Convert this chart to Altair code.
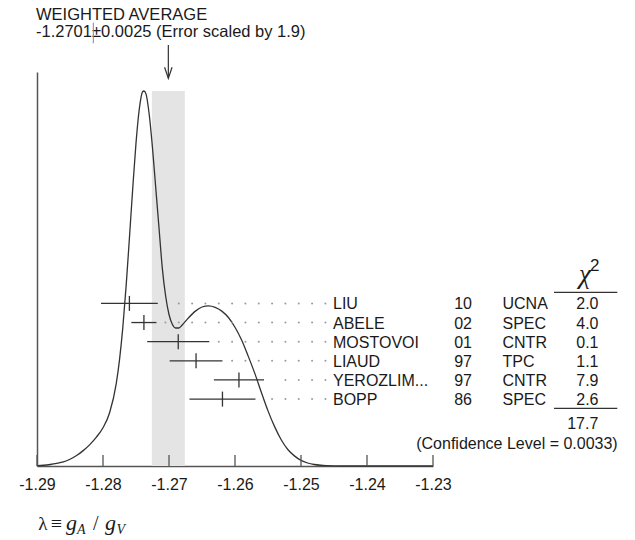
import altair as alt
import pandas as pd

# ---------------- data ----------------
names = ["LIU", "ABELE", "MOSTOVOI", "LIAUD", "YEROZLIM...", "BOPP"]
years = ["10", "02", "01", "97", "97", "86"]
techs = ["UCNA", "SPEC", "CNTR", "TPC", "CNTR", "SPEC"]
values = [-1.2760, -1.2738, -1.2686, -1.2659, -1.2594, -1.2619]
errors = [0.0043, 0.0019, 0.0047, 0.0040, 0.0038, 0.0050]
chi2 = ["2.0", "4.0", "0.1", "1.1", "7.9", "2.6"]
chi2_total = "17.7"
conf_level = "0.0033"

wavg = -1.2701
werr = 0.0025
err_scale = "1.9"

x_ticks = [-1.29, -1.28, -1.27, -1.26, -1.25, -1.24, -1.23]

# ideogram curve (relative height, peak = 1)
ideo_x = [-1.290, -1.289, -1.288, -1.287, -1.286, -1.285, -1.284, -1.283, -1.282,
          -1.281, -1.280, -1.279, -1.278, -1.2775, -1.277, -1.2765, -1.276, -1.2755,
          -1.275, -1.2745, -1.274, -1.2738, -1.2735, -1.273, -1.2725, -1.272, -1.2715,
          -1.271, -1.2705, -1.270, -1.2695, -1.269, -1.2685, -1.268, -1.267, -1.266,
          -1.265, -1.264, -1.263, -1.262, -1.261, -1.260, -1.259, -1.258, -1.257,
          -1.256, -1.255, -1.254, -1.253, -1.252, -1.251, -1.250, -1.249, -1.248,
          -1.247, -1.246, -1.244, -1.240, -1.235, -1.230]
ideo_y = [0.001, 0.002, 0.004, 0.007, 0.011, 0.018, 0.028, 0.041, 0.057, 0.077,
          0.102, 0.142, 0.219, 0.283, 0.369, 0.479, 0.607, 0.739, 0.861, 0.952,
          0.998, 1.000, 0.993, 0.938, 0.848, 0.740, 0.632, 0.525, 0.452, 0.404,
          0.378, 0.368, 0.368, 0.376, 0.396, 0.413, 0.424, 0.427, 0.423, 0.413,
          0.396, 0.370, 0.336, 0.293, 0.247, 0.196, 0.147, 0.105, 0.070, 0.044,
          0.027, 0.015, 0.008, 0.004, 0.002, 0.001, 0.0, 0.0, 0.0, 0.0]

# ---------------- layout / style ----------------
W, H = 396, 394
FONT = "Liberation Sans"
SERIF = "Liberation Serif"
TXT = "#1a1a1a"
LINE = "#333333"
AX = "#555555"

meas = pd.DataFrame({
    "name": names, "year": years, "tech": techs, "value": values, "err": errors,
    "chi2": chi2,
})
meas["lo"] = meas["value"] - meas["err"]
meas["hi"] = meas["value"] + meas["err"]

# dotted leader lines on a fixed grid, starting just right of each error bar
dot_end, dot_step, dot_gap = -1.2463, 0.00202, 0.0013
dot_rows = []
for n, h in zip(meas["name"], meas["hi"]):
    k = 0
    while True:
        xv = dot_end - k * dot_step
        if xv < h + dot_gap:
            break
        dot_rows.append({"name": n, "x": xv})
        k += 1
dots_df = pd.DataFrame(dot_rows)

curve_df = pd.DataFrame({"x": ideo_x, "h": ideo_y})
band_df = pd.DataFrame({"lo": [wavg - werr], "hi": [wavg + werr],
                        "b": [0.0], "t": [max(ideo_y)]})
avg_df = pd.DataFrame({"v": [wavg]})
ticks_df = pd.DataFrame({"t": x_ticks})

x_scale = alt.Scale(domain=[x_ticks[0], x_ticks[-1]], nice=False, zero=False)
x_axis = alt.Axis(values=x_ticks, format=".2f",
                  labelExpr="replace(datum.label, '\u2212', '-')",
                  ticks=False, grid=False, labelFontSize=16, labelPadding=10,
                  labelFlush=False, labelColor=TXT, labelFont=FONT,
                  domainColor=AX, domainWidth=1.5)
curve_scale = alt.Scale(domain=[0, 1.0507], nice=False, zero=True)
row_scale = alt.Scale(type="point", domain=names, range=[231.4, 327.1], padding=0)


def X(field):
    return alt.X(field, scale=x_scale, axis=x_axis, title=None)


def label(s, xpx, ypx, size=16, align="left", font=FONT, style="normal",
          baseline="middle", color=TXT):
    return alt.Chart(pd.DataFrame({"t": [s]})).mark_text(
        align=align, baseline=baseline, fontSize=size, font=font,
        fontStyle=style, color=color
    ).encode(x=alt.value(xpx), y=alt.value(ypx), text="t:N")


band = alt.Chart(band_df).mark_rect(color="#e4e4e4").encode(
    x=X("lo:Q"), x2="hi:Q",
    y=alt.Y("b:Q", scale=curve_scale, axis=None), y2="t:Q")

curve = alt.Chart(curve_df).mark_line(
    color=LINE, strokeWidth=1.3, interpolate="monotone"
).encode(
    x=X("x:Q"),
    y=alt.Y("h:Q", scale=curve_scale,
            axis=alt.Axis(orient="left", labels=False, ticks=False, grid=False,
                          title=None, domainColor=AX, domainWidth=1.5)))

axis_ticks = alt.Chart(ticks_df).mark_rule(color=AX, strokeWidth=1.3).encode(
    x=X("t:Q"), y=alt.value(H), y2=alt.value(H - 11))

bars = alt.Chart(meas).mark_rule(color=LINE, strokeWidth=1.3).encode(
    x=X("lo:Q"), x2="hi:Q",
    y=alt.Y("name:N", scale=row_scale, axis=None))

centers = alt.Chart(meas).mark_tick(
    color=LINE, thickness=1.3, size=15, orient="vertical", opacity=1
).encode(x=X("value:Q"), y=alt.Y("name:N", scale=row_scale, axis=None))

dots = alt.Chart(dots_df).mark_circle(size=4, color="#9a9a9a", opacity=1).encode(
    x=X("x:Q"), y=alt.Y("name:N", scale=row_scale, axis=None))


def column(field, xpx, align):
    return alt.Chart(meas).mark_text(
        align=align, baseline="middle", fontSize=16, font=FONT, color=TXT, dy=1
    ).encode(x=alt.value(xpx),
             y=alt.Y("name:N", scale=row_scale, axis=None),
             text=f"{field}:N")


col_name = column("name", 296, "left")
col_year = column("year", 435, "right")
col_tech = column("tech", 465.5, "left")
col_chi = column("chi2", 561.5, "right")

arrow = alt.Chart(avg_df).mark_rule(color=LINE, strokeWidth=1.2).encode(
    x=X("v:Q"), y=alt.value(-27), y2=alt.value(6))
arrow_head = alt.Chart(avg_df).mark_point(
    shape="M-0.68,-2L0,0L0.68,-2", size=121, filled=False, color=LINE,
    strokeWidth=1.2, opacity=1
).encode(x=X("v:Q"), y=alt.value(6.3))

title1 = label("WEIGHTED AVERAGE", -1, -57.5, size=16.5)
title2 = label(f"{wavg:.4f}\u00b1{werr:.4f} (Error scaled by {err_scale})",
               -1, -40.5, size=16.5)
pm_mark = alt.Chart(pd.DataFrame({"t": [0]})).mark_rule(
    color="#888888", strokeWidth=1).encode(
    x=alt.value(56.3), y=alt.value(-49.3), y2=alt.value(-28.7))

chi_head = label("\u03c7", 548, 211.4, size=27, align="center", font=SERIF,
                 style="italic", baseline="alphabetic")
chi_sup = label("2", 553, 198.7, size=17, baseline="alphabetic")
rule_top = alt.Chart(pd.DataFrame({"t": [0]})).mark_rule(
    color=LINE, strokeWidth=1.3).encode(
    x=alt.value(517), x2=alt.value(580.3), y=alt.value(220.3))
rule_bot = alt.Chart(pd.DataFrame({"t": [0]})).mark_rule(
    color=LINE, strokeWidth=1.3).encode(
    x=alt.value(517), x2=alt.value(580.3), y=alt.value(336.3))
total = label(chi2_total, 561.3, 352.3, align="right")
conf = label(f"(Confidence Level = {conf_level})", 580.7, 371.7, align="right")

# x-axis title: lambda = g_A / g_V
xt = [
    label("\u03bb", 1.3, 458, size=19, font=SERIF, baseline="alphabetic"),
    label("\u2261", 13.7, 458, size=20, font=SERIF, baseline="alphabetic"),
    label("g", 29, 458, size=22, font=SERIF, style="italic", baseline="alphabetic"),
    label("A", 40, 461.5, size=14, font=SERIF, style="italic", baseline="alphabetic"),
    label("/", 56, 458, size=20, font=SERIF, baseline="alphabetic"),
    label("g", 68, 458, size=22, font=SERIF, style="italic", baseline="alphabetic"),
    label("V", 79.5, 461.5, size=14, font=SERIF, style="italic", baseline="alphabetic"),
]

chart = alt.layer(
    band, curve, axis_ticks, dots, bars, centers,
    col_name, col_year, col_tech, col_chi,
    arrow, arrow_head, title1, title2, pm_mark,
    chi_head, chi_sup, rule_top, rule_bot, total, conf, *xt
).resolve_scale(y="independent").properties(
    width=W, height=H,
    autosize=alt.AutoSizeParams(type="none"),
    padding={"left": 37, "top": 72, "right": 202, "bottom": 74},
).configure_view(stroke=None)

chart.save("out.html", embed_options={"renderer": "svg", "actions": False})
